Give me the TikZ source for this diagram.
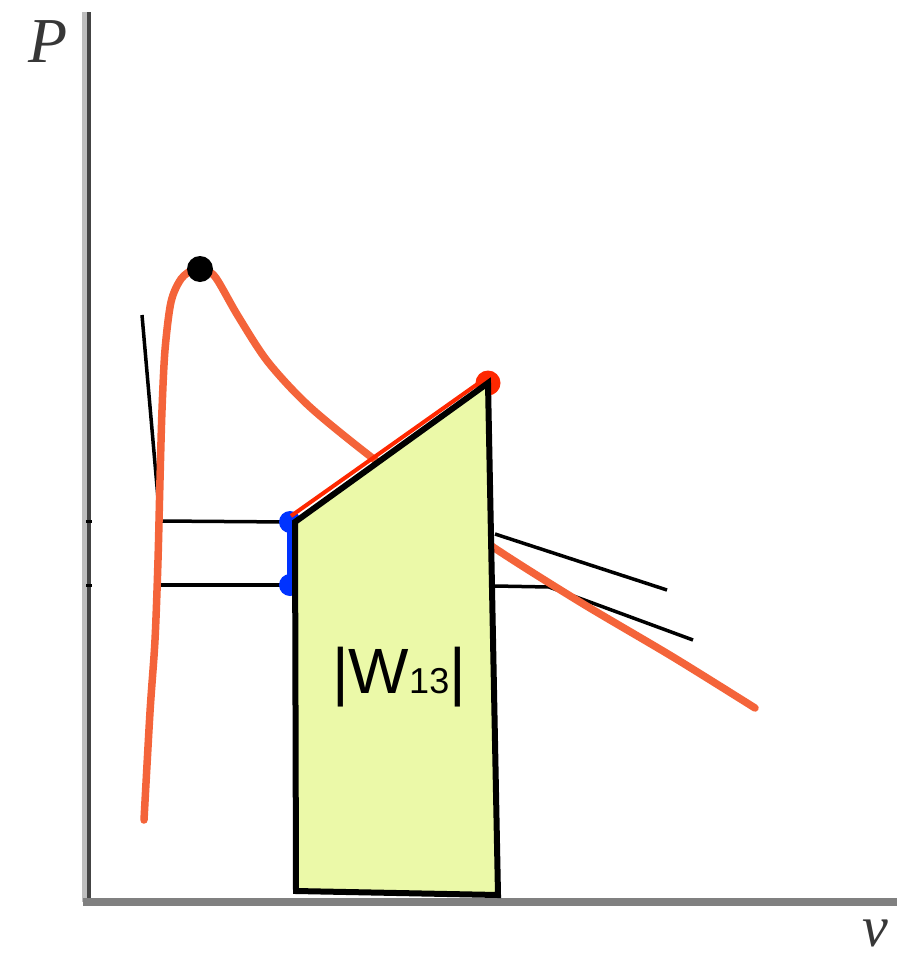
\documentclass[tikz,border=0pt]{standalone}
\usepackage{fontspec}
\setmainfont{Liberation Serif}
\newfontfamily\arialf{Liberation Sans}
\definecolor{curveorange}{RGB}{244,100,58}
\definecolor{isored}{RGB}{255,40,0}
\definecolor{ptblue}{RGB}{0,51,255}
\definecolor{workfill}{RGB}{235,249,168}
\definecolor{axisgray}{RGB}{128,128,128}
\definecolor{axislight}{RGB}{190,190,190}
\definecolor{axisdark}{RGB}{68,68,68}
\definecolor{labelgray}{RGB}{55,55,55}
\tikzset{
  thinblack/.style={draw=black, line width=3.5pt},
  dotmark/.style={circle, inner sep=0pt, minimum size=#1},
  axislabel/.style={inner sep=0pt, text=labelgray, font=\fontsize{#1}{#1}\selectfont\itshape},
}
\begin{document}
\begin{tikzpicture}[x=1pt,y=-1pt]
\useasboundingbox (0,0) rectangle (897,953);
\fill[white] (0,0) rectangle (897,953);
% axes
\coordinate (ytop) at (87,12);
\coordinate (origin) at (87,902);
\coordinate (xend) at (897,902);
\draw[axislight, line width=4.5pt] ([xshift=-2.5pt]ytop) -- ([xshift=-2.5pt]origin);
\draw[axisdark, line width=4.5pt] ([xshift=2pt]ytop) -- ([xshift=2pt]origin);
\draw[axisgray, line width=8pt] ([xshift=-4pt]origin) -- (xend);
\draw[black, line width=3pt] (86,521) -- (92,521);
\draw[black, line width=3pt] (86,585) -- (92,585);
\node[axislabel=64] (plabel) at (48,42) {P};
\node[axislabel=58] (vlabel) at (875,933) {v};
% coordinates
\coordinate (satl1) at (160,521);
\coordinate (satl2) at (158,585);
\coordinate (b1) at (290,522);
\coordinate (b2) at (290,585);
\coordinate (tanltop) at (142,315);
\coordinate (tanr1a) at (495,534);
\coordinate (tanr1b) at (667,590);
\coordinate (tanr2a) at (495,586);
\coordinate (tanr2m) at (549,587);
\coordinate (tanr2b) at (693,640);
% tangents and horizontals
\draw[thinblack] (tanltop) -- (satl1);
\draw[thinblack] (tanr1a) -- (tanr1b);
\draw[thinblack] (tanr2a) -- (tanr2m) -- (tanr2b);
\draw[thinblack] (satl1) -- (b1);
\draw[thinblack] (satl2) -- (b2);
% orange curve
\draw[curveorange, line width=7.5pt, line cap=round]
  plot[smooth, tension=0.5] coordinates {
  (144,820) (150,712) (155,640) (158,560) (160,480) (162,410) (165,350) (171,302) (181,279) (194,269) (204,269) (216,278) (238,316) (268,362) (310,407) (375,460) (440,507) (493,547) (580,602) (673,657) (755,708)};
\node[dotmark=26pt, fill=black] (crit) at (200,269) {};
% blue segment
\draw[ptblue, line width=6pt] (b1) -- (b2);
\node[dotmark=22pt, fill=ptblue] (b1dot) at (b1) {};
\node[dotmark=22pt, fill=ptblue] (b2dot) at (b2) {};
% red dot and red line
\coordinate (r3) at (488,383);
\node[dotmark=25pt, fill=isored] (r3dot) at (r3) {};
\draw[isored, line width=4pt] (291,516) -- (486,378);
% work area
\coordinate (pa) at (295,522);
\coordinate (pb) at (488,383);
\coordinate (pc) at (498,895);
\coordinate (pd) at (296,891);
\draw[fill=workfill, draw=black, line width=6pt, line join=miter] (pa) -- (pb) -- (pc) -- (pd) -- cycle;
\node[anchor=base west, inner sep=0pt, font=\arialf\fontsize{64}{64}\selectfont] (wlabel) at (332,693) {|W{\fontsize{36}{36}\selectfont 13}|};
\end{tikzpicture}
\end{document}
